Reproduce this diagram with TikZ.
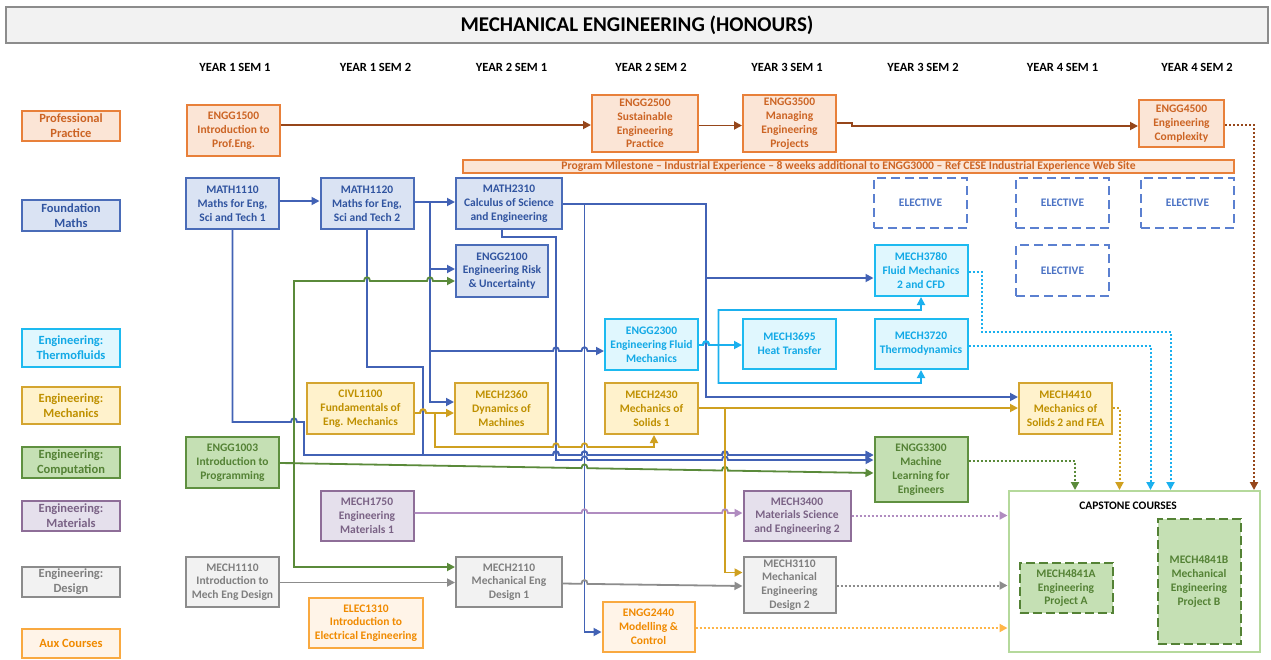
\documentclass[tikz,border=0pt]{standalone}
\usepackage{fontspec}
\setmainfont{Carlito}
\usetikzlibrary{arrows.meta}
\definecolor{ppB}{HTML}{E8803A}\definecolor{ppF}{HTML}{FBE5D6}\definecolor{ppT}{HTML}{CC6424}
\definecolor{brn}{HTML}{96461A}
\definecolor{fmB}{HTML}{4A6CB8}\definecolor{fmF}{HTML}{DAE3F3}\definecolor{fmT}{HTML}{3054A0}
\definecolor{blu}{HTML}{4262B5}
\definecolor{tfB}{HTML}{1DBAF0}\definecolor{tfF}{HTML}{E0F7FE}\definecolor{tfT}{HTML}{12A9E6}
\definecolor{cyn}{HTML}{1BB0EE}
\definecolor{mcB}{HTML}{D4A530}\definecolor{mcF}{HTML}{FFF2CC}\definecolor{mcT}{HTML}{BF9000}
\definecolor{gld}{HTML}{CFA020}
\definecolor{cpB}{HTML}{5F9040}\definecolor{cpF}{HTML}{C5E0B4}\definecolor{cpT}{HTML}{548235}
\definecolor{grn}{HTML}{5A8A3A}
\definecolor{mtB}{HTML}{8E6E98}\definecolor{mtF}{HTML}{E5E0EC}\definecolor{mtT}{HTML}{7A6285}
\definecolor{prp}{HTML}{B08CC0}
\definecolor{dsB}{HTML}{8C8C8C}\definecolor{dsF}{HTML}{F2F2F2}\definecolor{dsT}{HTML}{7F7F7F}
\definecolor{gry}{HTML}{8C8C8C}
\definecolor{axB}{HTML}{F9A940}\definecolor{axF}{HTML}{FFF4E8}\definecolor{axT}{HTML}{F08A00}
\definecolor{axl}{HTML}{FFB547}
\definecolor{elB}{HTML}{5B80D0}\definecolor{elT}{HTML}{4A72C4}
\definecolor{capB}{HTML}{B5D99C}
\newcommand\hp[2]{-- ({#1-3},#2) .. controls ({#1-3},{#2-5}) and ({#1+3},{#2-5}) .. ({#1+3},#2)}
\begin{document}
\begin{tikzpicture}[x=1pt,y=-1pt,
  box/.style={draw, line width=2pt, align=center, inner sep=0pt, font=\bfseries\fontsize{11.5}{13.8}\selectfont},
  leg/.style={draw, line width=2pt, align=center, inner sep=0pt, minimum width=98pt, font=\bfseries\fontsize{12.5}{14.8}\selectfont},
  sz/.style 2 args={minimum width=#1pt, minimum height=#2pt},
  pp/.style={draw=ppB, fill=ppF, text=ppT},
  fm/.style={draw=fmB, fill=fmF, text=fmT},
  tf/.style={draw=tfB, fill=tfF, text=tfT},
  mc/.style={draw=mcB, fill=mcF, text=mcT},
  cp/.style={draw=cpB, fill=cpF, text=cpT},
  mt/.style={draw=mtB, fill=mtF, text=mtT},
  ds/.style={draw=dsB, fill=dsF, text=dsT},
  ax/.style={draw=axB, fill=axF, text=axT},
  el/.style={draw=elB, fill=white, text=elT, dash pattern=on 9pt off 5pt, font=\bfseries\fontsize{11.5}{13}\selectfont},
  cpd/.style={draw=cpT, fill=cpF, text=cpT, dash pattern=on 9pt off 4pt},
  hdr/.style={font=\bfseries\fontsize{12.5}{15}\selectfont, text=black},
  con/.style={line width=1.8pt, -{Triangle[length=8pt,width=8pt]}},
  dot/.style={con, line width=2pt, dash pattern=on 2pt off 2pt},
]
\useasboundingbox (0,0) rectangle (1271,659);
% title
\node[draw=dsB, fill=dsF, line width=2pt, minimum width=1262pt, minimum height=36pt, inner sep=0pt,
  font=\bfseries\fontsize{21}{24}\selectfont] (title) at (637,25) {MECHANICAL ENGINEERING (HONOURS)};
% headers
\node[hdr] (h1) at (235,67) {YEAR 1 SEM 1};
\node[hdr] (h2) at (375.5,67) {YEAR 1 SEM 2};
\node[hdr] (h3) at (511.5,67) {YEAR 2 SEM 1};
\node[hdr] (h4) at (651,67) {YEAR 2 SEM 2};
\node[hdr] (h5) at (787,67) {YEAR 3 SEM 1};
\node[hdr] (h6) at (923,67) {YEAR 3 SEM 2};
\node[hdr] (h7) at (1062.5,67) {YEAR 4 SEM 1};
\node[hdr] (h8) at (1197,67) {YEAR 4 SEM 2};
% legend
\node[leg, pp, minimum height=30pt] (lpp) at (71,126) {Professional\\Practice};
\node[leg, fm, minimum height=31pt] (lfm) at (71,215.5) {Foundation\\Maths};
\node[leg, tf, minimum height=38pt] (ltf) at (71,348) {Engineering:\\Thermofluids};
\node[leg, mc, minimum height=37pt] (lmc) at (71,405.5) {Engineering:\\Mechanics};
\node[leg, cp, minimum height=31pt] (lcp) at (71,462.5) {Engineering:\\Computation};
\node[leg, mt, minimum height=30pt] (lmt) at (71,516) {Engineering:\\Materials};
\node[leg, ds, minimum height=30pt] (lds) at (71,582) {Engineering:\\Design};
\node[leg, ax, minimum height=29pt] (lax) at (71,643.5) {Aux Courses};
% professional practice
\node[box, pp, sz={93}{51}] (e1500) at (233.5,130.5) {ENGG1500\\Introduction to\\Prof.Eng.};
\node[box, pp, sz={106}{57}] (e2500) at (645,123.5) {ENGG2500\\Sustainable\\Engineering\\Practice};
\node[box, pp, sz={93}{57}] (e3500) at (789.5,123.5) {ENGG3500\\Managing\\Engineering\\Projects};
\node[box, pp, sz={85}{47}] (e4500) at (1181.5,123.5) {ENGG4500\\Engineering\\Complexity};
\node[box, pp, sz={771}{13}, font=\bfseries\fontsize{11.6}{12}\selectfont] (mile) at (848.5,166.5) {Program Milestone -- Industrial Experience -- 8 weeks additional to ENGG3000 -- Ref CESE Industrial Experience Web Site};
% maths
\node[box, fm, sz={93}{51}] (m1110) at (232.5,203.5) {MATH1110\\Maths for Eng,\\Sci and Tech 1};
\node[box, fm, sz={93}{51}] (m1120) at (367,203.5) {MATH1120\\Maths for Eng,\\Sci and Tech 2};
\node[box, fm, sz={106}{51}] (m2310) at (509,203.5) {MATH2310\\Calculus of Science\\and Engineering};
\node[box, fm, sz={92}{52}] (e2100) at (502,271) {ENGG2100\\Engineering Risk\\\& Uncertainty};
% electives
\node[box, el, sz={93}{50}] (el1) at (920.5,203) {ELECTIVE};
\node[box, el, sz={93}{50}] (el2) at (1062.5,203) {ELECTIVE};
\node[box, el, sz={93}{50}] (el3) at (1187.5,203) {ELECTIVE};
\node[box, el, sz={93}{51}] (el4) at (1062.5,270.5) {ELECTIVE};
% thermofluids
\node[box, tf, sz={93}{51}] (m3780) at (921,270.5) {MECH3780\\Fluid Mechanics\\2 and CFD};
\node[box, tf, sz={93}{51}] (e2300) at (651.5,344.5) {ENGG2300\\Engineering Fluid\\Mechanics};
\node[box, tf, sz={93}{50}] (m3695) at (789.5,344) {MECH3695\\Heat Transfer};
\node[box, tf, sz={93}{50}] (m3720) at (921,344) {MECH3720\\Thermodynamics};
% mechanics
\node[box, mc, sz={107}{51}] (civl) at (360.5,408.5) {CIVL1100\\Fundamentals of\\Eng. Mechanics};
\node[box, mc, sz={93}{51}] (m2360) at (501.5,408.5) {MECH2360\\Dynamics of\\Machines};
\node[box, mc, sz={93}{51}] (m2430) at (651.5,408.5) {MECH2430\\Mechanics of\\Solids 1};
\node[box, mc, sz={93}{51}] (m4410) at (1065.5,408.5) {MECH4410\\Mechanics of\\Solids 2 and FEA};
% computation
\node[box, cp, sz={93}{51}] (e1003) at (232.5,462.5) {ENGG1003\\Introduction to\\Programming};
\node[box, cp, sz={93}{65}] (e3300) at (921,469.5) {ENGG3300\\Machine\\Learning for\\Engineers};
% materials
\node[box, mt, sz={93}{50}] (m1750) at (367,516) {MECH1750\\Engineering\\Materials 1};
\node[box, mt, sz={107}{50}] (m3400) at (797,516) {MECH3400\\Materials Science\\and Engineering 2};
% design
\node[box, ds, sz={93}{50}] (d1110) at (232.5,582) {MECH1110\\Introduction to\\Mech Eng Design};
\node[box, ds, sz={106}{50}] (m2110) at (509,582) {MECH2110\\Mechanical Eng\\Design 1};
\node[box, ds, sz={92}{56}] (m3110) at (789.5,585) {MECH3110\\Mechanical\\Engineering\\Design 2};
% aux
\node[box, ax, sz={114}{50}] (elec) at (366,623) {ELEC1310\\Introduction to\\Electrical Engineering};
\node[box, ax, sz={92}{50}] (e2440) at (648.5,627) {ENGG2440\\Modelling \&\\Control};
% capstone
\node[draw=capB, fill=white, line width=2pt, sz={251}{161}, inner sep=0pt] (cap) at (1134,571.5) {};
\node[font=\bfseries\fontsize{11.5}{13.8}\selectfont, text=black] (capt) at (1128,506) {CAPSTONE COURSES};
\node[box, cpd, sz={93}{50}] (m4841a) at (1066,588) {MECH4841A\\Engineering\\Project A};
\node[box, cpd, sz={83}{125}] (m4841b) at (1199,581.5) {MECH4841B\\Mechanical\\Engineering\\Project B};

% ===== connectors =====
% professional practice
\draw[con, brn] (e1500.east |- 0,125) -- (e2500.west |- 0,125);
\draw[con, brn] (e2500.east |- 0,125.5) -- (e3500.west |- 0,125.5);
\draw[con, brn] (e3500.east |- 0,123) -- (852,123) -- (852,126) -- (e4500.west |- 0,126);
\draw[dot, brn] (e4500.east |- 0,125) -- (1254,125) -- (1254,0 |- cap.north);
% maths
\draw[con, blu] (m1110.east |- 0,201) -- (m1120.west |- 0,201);
\draw[con, blu] (m1120.east |- 0,202) -- (m2310.west |- 0,202);
\draw[con, blu] (m1120.east |- 0,202) -- (430,202) -- (430,269) -- (e2100.west |- 0,269);
\draw[con, blu] (m1120.east |- 0,202) -- (430,202) -- (430,351) \hp{556}{351} \hp{584.5}{351} -- (e2300.west |- 0,351);
\draw[con, blu] (m1120.east |- 0,202) -- (430,202) -- (430,402) -- (m2360.west |- 0,402);
\draw[con, blu] (m1120.south) -- (367,367) -- (423,367) -- (423,455) \hp{556}{455} \hp{584.5}{455} \hp{725}{455} -- (e3300.west |- 0,455);
\draw[con, blu] (m1110.south) -- (232.5,422) \hp{294}{422} -- (304,422) -- (304,455) -- (423,455) \hp{556}{455} \hp{584.5}{455} \hp{725}{455} -- (e3300.west |- 0,455);
\draw[con, blu] (m2310.south -| 502,0) -- (502,237) -- (556,237) -- (556,460) \hp{584.5}{460} \hp{725}{460} -- (e3300.west |- 0,460);
\draw[con, blu] (m2310.east |- 0,204) -- (584.5,204) -- (584.5,632) -- (e2440.west |- 0,632);
\draw[con, blu] (m2310.east |- 0,204) -- (706,204) -- (706,278) -- (m3780.west |- 0,278);
\draw[con, blu] (m2310.east |- 0,204) -- (706,204) -- (706,397) -- (m4410.west |- 0,397);
% computation
\draw[con, grn] (e1003.east |- 0,463) -- (294,463) -- (294,281) \hp{367}{281} \hp{430}{281} -- (e2100.west |- 0,281);
\draw[con, grn] (e1003.east |- 0,463) -- (294,463) -- (294,567) -- (m2110.west |- 0,567);
\draw[con, grn] (e1003.east |- 0,463) -- (581.5,468.1) .. controls (581.5,463.1) and (587.5,463.1) .. (587.5,468.2)
   -- (722,470.5) .. controls (722,465.5) and (728,465.5) .. (728,470.6) -- (e3300.west |- 0,473);
\draw[dot, grn] (e3300.east |- 0,461) -- (1075,461) -- (1075,0 |- cap.north);
% mechanics
\draw[con, gld] (civl.east |- 0,413) \hp{423}{413} -- (m2360.west |- 0,413);
\draw[con, gld] (civl.east |- 0,413) \hp{423}{413} -- (435,413) -- (435,447) \hp{556}{447} \hp{584.5}{447} -- (654,447) -- (654,0 |- m2430.south);
\draw[con, gld] (m2430.east |- 0,408) -- (m4410.west |- 0,408);
\draw[con, gld] (m2430.east |- 0,408) -- (725,408) -- (725,572.5) -- (m3110.west |- 0,572.5);
\draw[dot, gld] (m4410.east |- 0,408) -- (1119.5,408) -- (1119.5,0 |- cap.north);
% thermofluids
\draw[con, cyn] (e2300.east |- 0,345) \hp{706}{345} -- (m3695.west |- 0,345);
\draw[con, cyn] (e2300.east |- 0,345) \hp{706}{345} -- (718.5,345) -- (718.5,310) -- (921,310) -- (m3780.south);
\draw[con, cyn] (e2300.east |- 0,345) \hp{706}{345} -- (718.5,345) -- (718.5,383) -- (921,383) -- (m3720.south);
\draw[dot, cyn] (m3780.east |- 0,272) -- (981.5,272) -- (981.5,332) -- (1170.5,332) -- (1170.5,0 |- cap.north);
\draw[dot, cyn] (m3720.east |- 0,345.5) -- (1150.5,345.5) -- (1150.5,0 |- cap.north);
% materials
\draw[con, prp] (m1750.east |- 0,513) \hp{584.5}{513} \hp{725}{513} -- (m3400.west |- 0,513);
\draw[dot, prp] (m3400.east |- 0,515.5) -- (cap.west |- 0,515.5);
% design
\draw[con, gry] (d1110.east |- 0,582.5) -- (m2110.west |- 0,582.5);
\draw[con, gry] (m2110.east |- 0,583.5) -- (581.5,583.8) .. controls (581.5,578.8) and (587.5,578.8) .. (587.5,583.9) -- (m3110.west |- 0,586);
\draw[dot, gry] (m3110.east |- 0,585.5) -- (cap.west |- 0,585.5);
% aux
\draw[dot, axl] (e2440.east |- 0,628) -- (cap.west |- 0,628);
\end{tikzpicture}
\end{document}
